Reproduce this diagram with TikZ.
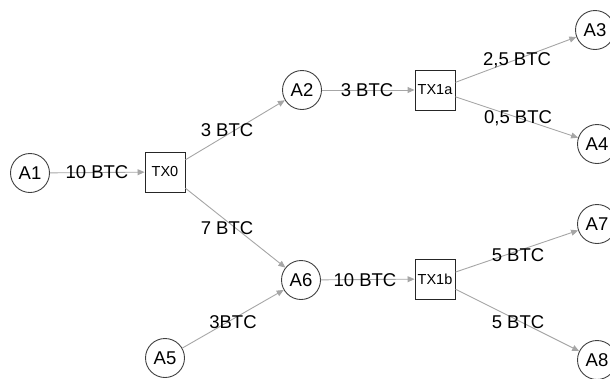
\documentclass[tikz,border=0pt]{standalone}
\usepackage{fontspec}
\setmainfont{Liberation Sans}
\usetikzlibrary{arrows.meta,calc}
\begin{document}
\begin{tikzpicture}[x=1pt,y=-1pt,
  addr/.style={circle,draw=black!75,line width=0.9pt,minimum size=39pt,inner sep=0pt,font=\fontsize{18.5}{18.5}\selectfont},
  txbox/.style={rectangle,draw=black!85,line width=0.9pt,minimum size=40pt,inner sep=0pt,font=\fontsize{14.5}{14.5}\selectfont},
  flow/.style={draw=black!35,line width=0.9pt,-{Triangle[length=7pt,width=6pt]}},
  amount/.style={font=\fontsize{18.5}{18.5}\selectfont,inner sep=0pt}]
\useasboundingbox (0,0) rectangle (610,378);
% accounts and transactions
\node[addr]  (A1)   at (30,173)  {A1};
\node[txbox] (TX0)  at (165,172) {TX0};
\node[addr]  (A2)   at (302,90)  {A2};
\node[txbox] (TX1a) at (435,90)  {TX1a};
\node[addr]  (A3)   at (595,30)  {A3};
\node[addr]  (A4)   at (597,144) {A4};
\node[addr]  (A6)   at (301,280) {A6};
\node[txbox] (TX1b) at (435,279) {TX1b};
\node[addr]  (A7)   at (597,224) {A7};
\node[addr]  (A8)   at (597,360) {A8};
\node[addr]  (A5)   at (165,358) {A5};
% payment flows
\draw[flow] (A1) -- (TX0);
\draw[flow] (TX0) -- (A2);
\draw[flow] (TX0) -- (A6);
\draw[flow] (A2) -- (TX1a);
\draw[flow] (TX1a) -- (A3);
\draw[flow] (TX1a) -- (A4);
\draw[flow] (A6) -- (TX1b);
\draw[flow] (TX1b) -- (A7);
\draw[flow] (TX1b) -- (A8);
\draw[flow] (A5) -- (A6);
% amounts
\node[amount] (l1) at (97,172)  {10 BTC};
\node[amount] (l2) at (227,130) {3 BTC};
\node[amount] (l3) at (227,228) {7 BTC};
\node[amount] (l4) at (367,90)  {3 BTC};
\node[amount] (l5) at (517,60)  {2,5 BTC};
\node[amount] (l6) at (518,118) {0,5 BTC};
\node[amount] (l7) at (365,280) {10 BTC};
\node[amount] (l8) at (518,255) {5 BTC};
\node[amount] (l9) at (518,322) {5 BTC};
\node[amount] (l10) at (233,322) {3BTC};
\end{tikzpicture}
\end{document}
